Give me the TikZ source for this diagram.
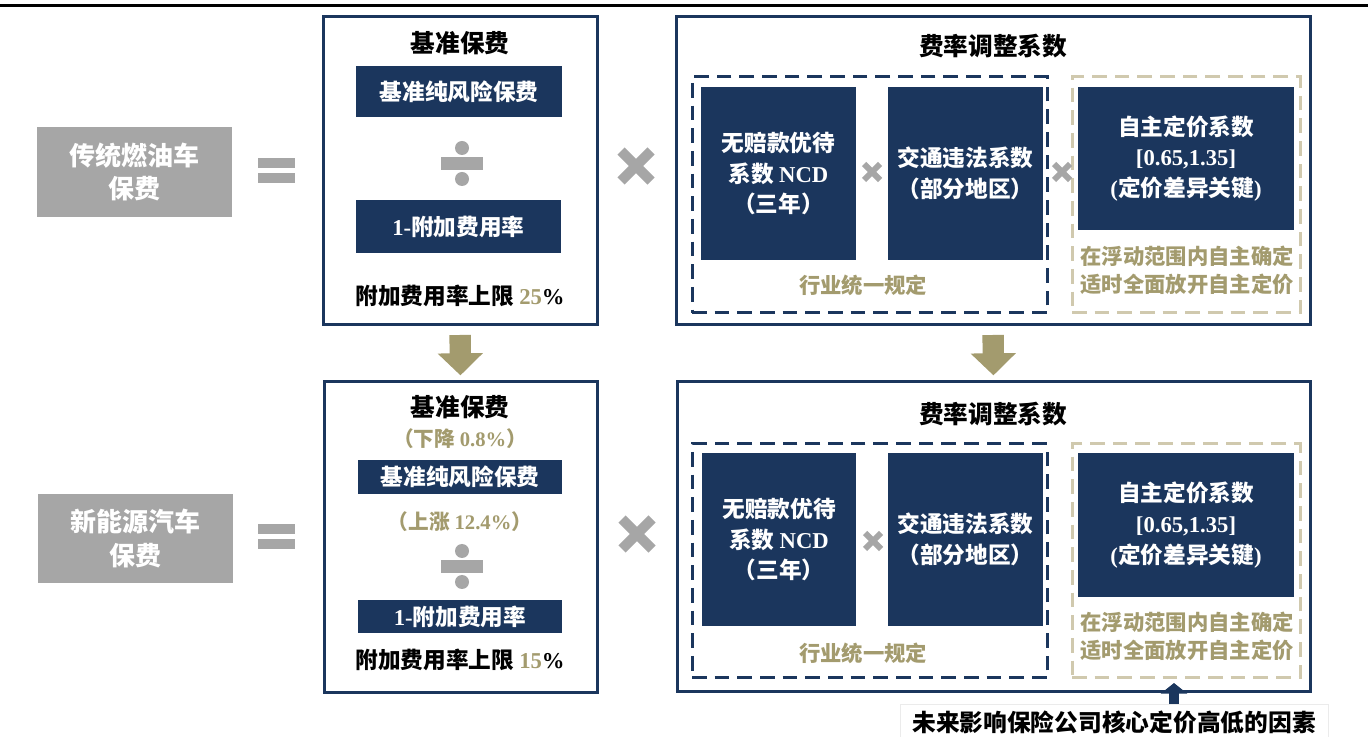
\documentclass[tikz,border=0pt]{standalone}
\usepackage{fontspec}
\setmainfont{Noto Sans CJK SC}
\newfontfamily\lat{Liberation Serif}
\usetikzlibrary{arrows.meta,calc}
\definecolor{navy}{RGB}{27,54,93}
\definecolor{olive}{RGB}{163,155,110}
\definecolor{paleolive}{RGB}{208,201,174}
\definecolor{mgray}{RGB}{166,166,166}
\newcommand{\rbox}[7]{\node[#6, minimum width={(#4-#2)*0.75pt}, minimum height={(#5-#3)*0.75pt}, inner sep=0pt, outer sep=0pt] (#1) at ({(#2+#4)/2},{(#3+#5)/2}) {#7};}
\newcommand{\timesmark}[4]{\draw[mgray, line width=#4] ({#1-#3},{#2-#3}) -- ({#1+#3},{#2+#3}) ({#1-#3},{#2+#3}) -- ({#1+#3},{#2-#3});}
\newcommand{\divmark}[1]{%
  \fill[mgray] (441,{#1-6.5}) rectangle (483,{#1+6.5});
  \fill[mgray] (462,{#1-15.5}) circle[radius=5.25pt];
  \fill[mgray] (462,{#1+15.5}) circle[radius=5.25pt];}
\newcommand{\eqmark}[1]{%
  \fill[mgray] (258,{#1-12.5}) rectangle (295,{#1-2.5});
  \fill[mgray] (258,{#1+2.5}) rectangle (295,{#1+12.5});}
\newcommand{\lt}[1]{{\lat\bfseries #1}}
\tikzset{
  outer/.style={draw=navy, line width=2.25pt, fill=white},
  navybox/.style={fill=navy, text=white, align=center, font=\bfseries\fontsize{17pt}{23pt}\selectfont},
  graybox/.style={fill=mgray, text=white, align=center, font=\bfseries\fontsize{19.5pt}{25pt}\selectfont},
  dashnavy/.style={draw=navy, line width=2.25pt, dash pattern=on 11pt off 6pt},
  dashgold/.style={draw=paleolive, line width=2.25pt, dash pattern=on 11pt off 6pt},
  titletxt/.style={text=black, font=\bfseries\fontsize{18.5pt}{22pt}\selectfont},
  bodytxt/.style={text=black, font=\bfseries\fontsize{17pt}{22pt}\selectfont},
  goldtxt/.style={text=olive, align=center, font=\bfseries\fontsize{16pt}{21pt}\selectfont},
  chgtxt/.style={text=olive, font=\bfseries\fontsize{15.5pt}{20pt}\selectfont},
  downarrow/.style={olive, line width=16pt, -{Triangle[length=16.5pt,width=33pt]}, shorten <=7.5pt, shorten >=5pt},
  uparrow/.style={navy, line width=7.5pt, -{Triangle[length=8pt,width=19.5pt]}, shorten >=3.75pt},
}
\begin{document}
\begin{tikzpicture}[x=0.75pt,y=-0.75pt]
\useasboundingbox (0,0) rectangle (1368,737);
\fill[white] (0,0) rectangle (1368,737);
% top rule
\draw[black, line width=2.5pt] (0,5.5) -- (1368,5.5);

% ===== upper row =====
\rbox{G1}{37}{127}{232}{217}{graybox}{传统燃油车\\保费}
\eqmark{170.5}
\rbox{A1}{323}{17}{597}{325}{outer}{}
\node[titletxt] (A1t) at (460,43) {基准保费};
\rbox{N1}{356}{66}{562}{117}{navybox}{基准纯风险保费}
\divmark{163.5}
\rbox{N2}{356}{200}{561}{253}{navybox}{\lt{1-}附加费用率}
\node[bodytxt] (A1b) at (460,296) {附加费用率上限 \lt{\color{olive}25}\lt{\%}};
\timesmark{636}{166}{15}{7.5pt}

\rbox{B1}{676}{17}{1310}{325}{outer}{}
\node[titletxt] (B1t) at (993,46) {费率调整系数};
\rbox{DN1}{692}{77}{1047}{313}{dashnavy}{}
\rbox{DG1}{1072}{77}{1300}{313}{dashgold}{}
\rbox{NCD1}{701}{87}{856}{260}{navybox}{无赔款优待\\系数 \lt{NCD}\\（三年）}
\rbox{JT1}{888}{87}{1043}{260}{navybox}{交通违法系数\\（部分地区）}
\rbox{ZZ1}{1078}{87}{1294}{230}{navybox}{自主定价系数\\\lt{[0.65,1.35]}\\\lt{(}定价差异关键\lt{)}}
\timesmark{872}{172}{8}{4.5pt}
\timesmark{1062}{172}{8}{4.5pt}
\node[goldtxt] (H1) at (863,285) {行业统一规定};
\node[goldtxt] (F1) at (1187,270) {在浮动范围内自主确定\\适时全面放开自主定价};

% ===== lower row =====
\rbox{G2}{38}{494}{233}{583}{graybox}{新能源汽车\\保费}
\eqmark{537}
\rbox{A2}{324}{382}{597}{692}{outer}{}
\node[titletxt] (A2t) at (460,407) {基准保费};
\node[chgtxt] (C1) at (460,439) {（下降 \lt{0.8\%}）};
\rbox{N3}{358}{460}{562}{494}{navybox}{基准纯风险保费}
\node[chgtxt] (C2) at (460,522) {（上涨 \lt{12.4\%}）};
\divmark{566.5}
\rbox{N4}{358}{600}{562}{633}{navybox}{\lt{1-}附加费用率}
\node[bodytxt] (A2b) at (460,660) {附加费用率上限 \lt{\color{olive}15}\lt{\%}};
\timesmark{637}{534}{15}{7.5pt}

\rbox{B2}{677}{382}{1310}{691}{outer}{}
\node[titletxt] (B2t) at (993,414) {费率调整系数};
\rbox{DN2}{692}{444}{1047}{678}{dashnavy}{}
\rbox{DG2}{1072}{444}{1300}{678}{dashgold}{}
\rbox{NCD2}{702}{453}{856}{626}{navybox}{无赔款优待\\系数 \lt{NCD}\\（三年）}
\rbox{JT2}{888}{453}{1043}{626}{navybox}{交通违法系数\\（部分地区）}
\rbox{ZZ2}{1078}{453}{1294}{597}{navybox}{自主定价系数\\\lt{[0.65,1.35]}\\\lt{(}定价差异关键\lt{)}}
\timesmark{873}{541}{8}{4.5pt}
\node[goldtxt] (H2) at (863,653) {行业统一规定};
\node[goldtxt] (F2) at (1187,636.5) {在浮动范围内自主确定\\适时全面放开自主定价};

% ===== arrows =====
\draw[downarrow] (A1.south) -- (A2.north);
\draw[downarrow] (B1.south) -- (B2.north);

\coordinate (upx) at (1174,0);
\rbox{L}{900}{704}{1328}{740}{fill=white, draw=black!8, line width=0.75pt, text=black, font=\bfseries\fontsize{17.8pt}{22pt}\selectfont}{未来影响保险公司核心定价高低的因素}
\draw[uparrow] (L.north -| upx) -- (DG2.south -| upx);
\end{tikzpicture}
\end{document}
